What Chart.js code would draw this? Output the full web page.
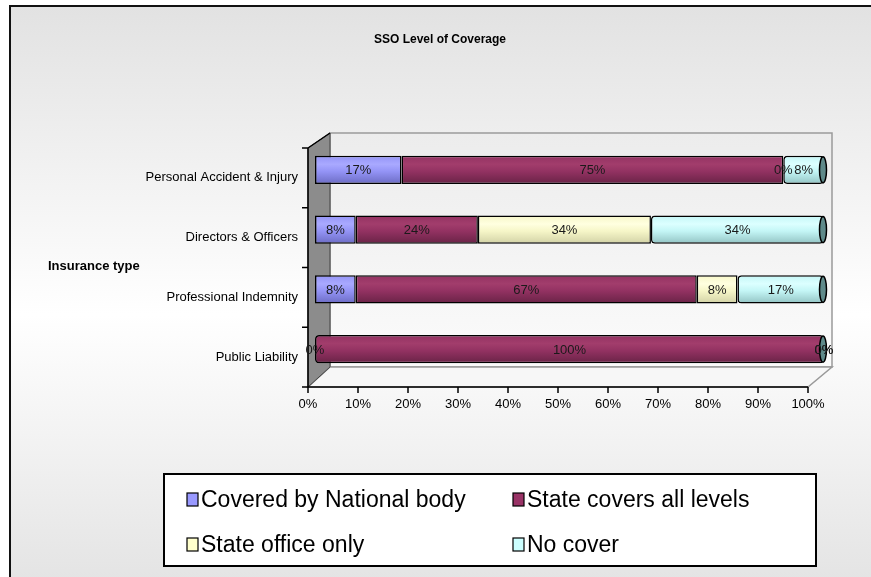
<!DOCTYPE html>
<html>
<head>
<meta charset="utf-8">
<title>SSO Level of Coverage</title>
<script src="https://cdn.jsdelivr.net/npm/chart.js@4.4.0/dist/chart.umd.min.js"></script>
<style>
  html, body { margin: 0; padding: 0; background: #fff; }
  canvas { display: block; }
</style>
</head>
<body>
<canvas id="coverage" width="871" height="577"></canvas>
<script>
// insurance types, top to bottom
const categories = ['Personal Accident & Injury', 'Directors & Officers', 'Professional Indemnity', 'Public Liability'];

// share of SSOs (%) per level of coverage
const nationalBody = [17, 8, 8, 0];
const stateAllLevels = [75, 24, 67, 100];
const stateOfficeOnly = [0, 34, 8, 0];
const noCover = [8, 34, 17, 0];

const xTicks = [0, 10, 20, 30, 40, 50, 60, 70, 80, 90, 100];

const FONT = "'Liberation Sans', Arial, sans-serif";

// vertical gradient so each bar looks like a shaded tube
const tube = (top, mid, bottom) => (ctx) => {
  const chart = ctx.chart;
  if (!chart.chartArea) return mid;
  const y = chart.scales.y;
  const cy = y.getPixelForValue(ctx.dataIndex);
  const h = (y.getPixelForValue(1) - y.getPixelForValue(0)) * 0.47;
  const g = chart.ctx.createLinearGradient(0, cy - h / 2, 0, cy + h / 2);
  g.addColorStop(0, mid);
  g.addColorStop(0.3, top);
  g.addColorStop(0.55, mid);
  g.addColorStop(1, bottom);
  return g;
};

const series = [
  { label: 'Covered by National body', data: nationalBody, swatch: '#9999ff', fill: tube('#a9a9ff', '#9494f6', '#6c6cc4') },
  { label: 'State covers all levels', data: stateAllLevels, swatch: '#993366', fill: tube('#a23d6c', '#933262', '#692346') },
  { label: 'State office only', data: stateOfficeOnly, swatch: '#ffffcc', fill: tube('#ffffe0', '#f6f6c8', '#d2d2a6') },
  { label: 'No cover', data: noCover, swatch: '#ccffff', fill: tube('#dcffff', '#c4f6f6', '#93c4c4') }
];

// front and back planes of the box, relative to the bar plane
const planes = (ca) => ({
  front: { l: ca.left - 7, r: ca.right - 16, t: ca.top + 8, b: ca.bottom + 8 },
  back: { l: ca.left + 15, r: ca.right + 8, t: ca.top - 7, b: ca.bottom - 12 }
});

const frame3d = {
  id: 'frame3d',
  beforeDraw(chart) {
    const { ctx, width, height } = chart;
    ctx.save();
    ctx.fillStyle = '#fff';
    ctx.fillRect(0, 0, width, height);
    const bg = ctx.createLinearGradient(0, 6, 0, 600);
    bg.addColorStop(0, '#e2e2e2');
    bg.addColorStop(0.52, '#ffffff');
    bg.addColorStop(1, '#e2e2e2');
    ctx.fillStyle = bg;
    ctx.fillRect(10, 6, width - 10, height - 6);
    ctx.strokeStyle = '#111';
    ctx.lineWidth = 2;
    ctx.beginPath();
    ctx.moveTo(10, height);
    ctx.lineTo(10, 6);
    ctx.lineTo(width, 6);
    ctx.stroke();

    ctx.fillStyle = '#000';
    ctx.font = 'bold 12px ' + FONT;
    ctx.textAlign = 'center';
    ctx.textBaseline = 'middle';
    ctx.fillText('SSO Level of Coverage', 440, 40);
    ctx.restore();
  },
  beforeDatasetsDraw(chart) {
    const { ctx, chartArea: ca } = chart;
    const xs = chart.scales.x, ys = chart.scales.y;
    const { front: f, back: b } = planes(ca);
    const fx = (px) => f.l + (px - ca.left) * (f.r - f.l) / (ca.right - ca.left);

    ctx.save();
    // back wall
    const wall = ctx.createLinearGradient(0, b.t, 0, b.b);
    wall.addColorStop(0, '#ececec');
    wall.addColorStop(1, '#fbfbfb');
    ctx.fillStyle = wall;
    ctx.fillRect(b.l, b.t, b.r - b.l, b.b - b.t);
    ctx.strokeStyle = '#9a9a9a';
    ctx.lineWidth = 1.5;
    ctx.strokeRect(b.l, b.t, b.r - b.l, b.b - b.t);

    // floor
    ctx.beginPath();
    ctx.moveTo(f.l, f.b);
    ctx.lineTo(f.r, f.b);
    ctx.lineTo(b.r, b.b);
    ctx.lineTo(b.l, b.b);
    ctx.closePath();
    ctx.fillStyle = '#f7f7f7';
    ctx.fill();
    ctx.stroke();

    // left wall
    ctx.beginPath();
    ctx.moveTo(f.l, f.t);
    ctx.lineTo(b.l, b.t);
    ctx.lineTo(b.l, b.b);
    ctx.lineTo(f.l, f.b);
    ctx.closePath();
    ctx.fillStyle = '#8c8c8c';
    ctx.fill();
    ctx.strokeStyle = '#444';
    ctx.lineWidth = 1;
    ctx.stroke();

    // front axes
    ctx.strokeStyle = '#000';
    ctx.lineWidth = 1.5;
    ctx.beginPath();
    ctx.moveTo(f.l, f.t);
    ctx.lineTo(b.l, b.t);
    ctx.moveTo(f.l, f.t);
    ctx.lineTo(f.l, f.b);
    ctx.lineTo(f.r, f.b);
    for (let i = 0; i <= categories.length; i++) {
      const y = ys.getPixelForValue(i - 0.5) + (f.t - ca.top);
      ctx.moveTo(f.l - 6, y);
      ctx.lineTo(f.l, y);
    }
    xTicks.forEach((v) => {
      const x = fx(xs.getPixelForValue(v));
      ctx.moveTo(x, f.b);
      ctx.lineTo(x, f.b + 6);
    });
    ctx.stroke();

    ctx.fillStyle = '#000';
    ctx.font = '13px ' + FONT;
    ctx.textAlign = 'center';
    ctx.textBaseline = 'middle';
    xTicks.forEach((v) => {
      ctx.fillText(v + '%', fx(xs.getPixelForValue(v)), f.b + 17);
    });

    ctx.textAlign = 'right';
    categories.forEach((c, i) => {
      ctx.fillText(c, f.l - 10, ys.getPixelForValue(i) + (f.t - ca.top));
    });

    ctx.font = 'bold 13px ' + FONT;
    ctx.textAlign = 'left';
    ctx.fillText('Insurance type', 48, (f.t + f.b) / 2 - 1);
    ctx.restore();
  },
  afterDatasetsDraw(chart) {
    const { ctx } = chart;
    ctx.save();
    // end faces of the tubes
    const last = chart.getDatasetMeta(chart.data.datasets.length - 1);
    last.data.forEach((el) => {
      ctx.beginPath();
      ctx.ellipse(el.x - 1, el.y, 3.5, el.height / 2 - 1, 0, 0, Math.PI * 2);
      ctx.fillStyle = '#5f8a8a';
      ctx.fill();
      ctx.strokeStyle = '#000';
      ctx.lineWidth = 1.5;
      ctx.stroke();
    });

    // value labels
    ctx.font = '13px ' + FONT;
    ctx.fillStyle = '#1a1a1a';
    ctx.textAlign = 'center';
    ctx.textBaseline = 'middle';
    chart.data.datasets.forEach((ds, di) => {
      chart.getDatasetMeta(di).data.forEach((el, i) => {
        ctx.fillText(ds.data[i] + '%', (el.x + el.base) / 2, el.y + 1);
      });
    });
    ctx.restore();
  },
  afterDraw(chart) {
    const { ctx } = chart;
    ctx.save();
    ctx.fillStyle = '#fff';
    ctx.fillRect(164, 474, 652, 92);
    ctx.strokeStyle = '#000';
    ctx.lineWidth = 2;
    ctx.strokeRect(164, 474, 652, 92);

    const cols = [187, 513];
    const rows = [500, 545];
    ctx.font = '23px ' + FONT;
    ctx.textAlign = 'left';
    ctx.textBaseline = 'middle';
    chart.data.datasets.forEach((ds, i) => {
      const x = cols[i % 2], y = rows[Math.floor(i / 2)];
      ctx.fillStyle = ds.swatch;
      ctx.fillRect(x, y - 7, 11, 13);
      ctx.strokeStyle = '#000';
      ctx.lineWidth = 1.2;
      ctx.strokeRect(x, y - 7, 11, 13);
      ctx.fillStyle = '#000';
      ctx.fillText(ds.label, x + 14, y + 1);
    });
    ctx.restore();
  }
};

new Chart(document.getElementById('coverage'), {
  type: 'bar',
  data: {
    labels: categories,
    datasets: series.map((s) => ({
      label: s.label,
      data: s.data,
      swatch: s.swatch,
      backgroundColor: s.fill,
      borderColor: '#000',
      borderWidth: 1.5,
      borderSkipped: false,
      borderRadius: 4,
      barPercentage: 0.47,
      categoryPercentage: 1
    }))
  },
  options: {
    indexAxis: 'y',
    responsive: false,
    animation: false,
    layout: {
      padding: { left: 315, right: 47, top: 140, bottom: 198 }
    },
    scales: {
      x: { stacked: true, min: 0, max: 100, display: false },
      y: { stacked: true, display: false }
    },
    plugins: {
      legend: { display: false },
      tooltip: { enabled: false },
      title: { display: false }
    }
  },
  plugins: [frame3d]
});
</script>
</body>
</html>
